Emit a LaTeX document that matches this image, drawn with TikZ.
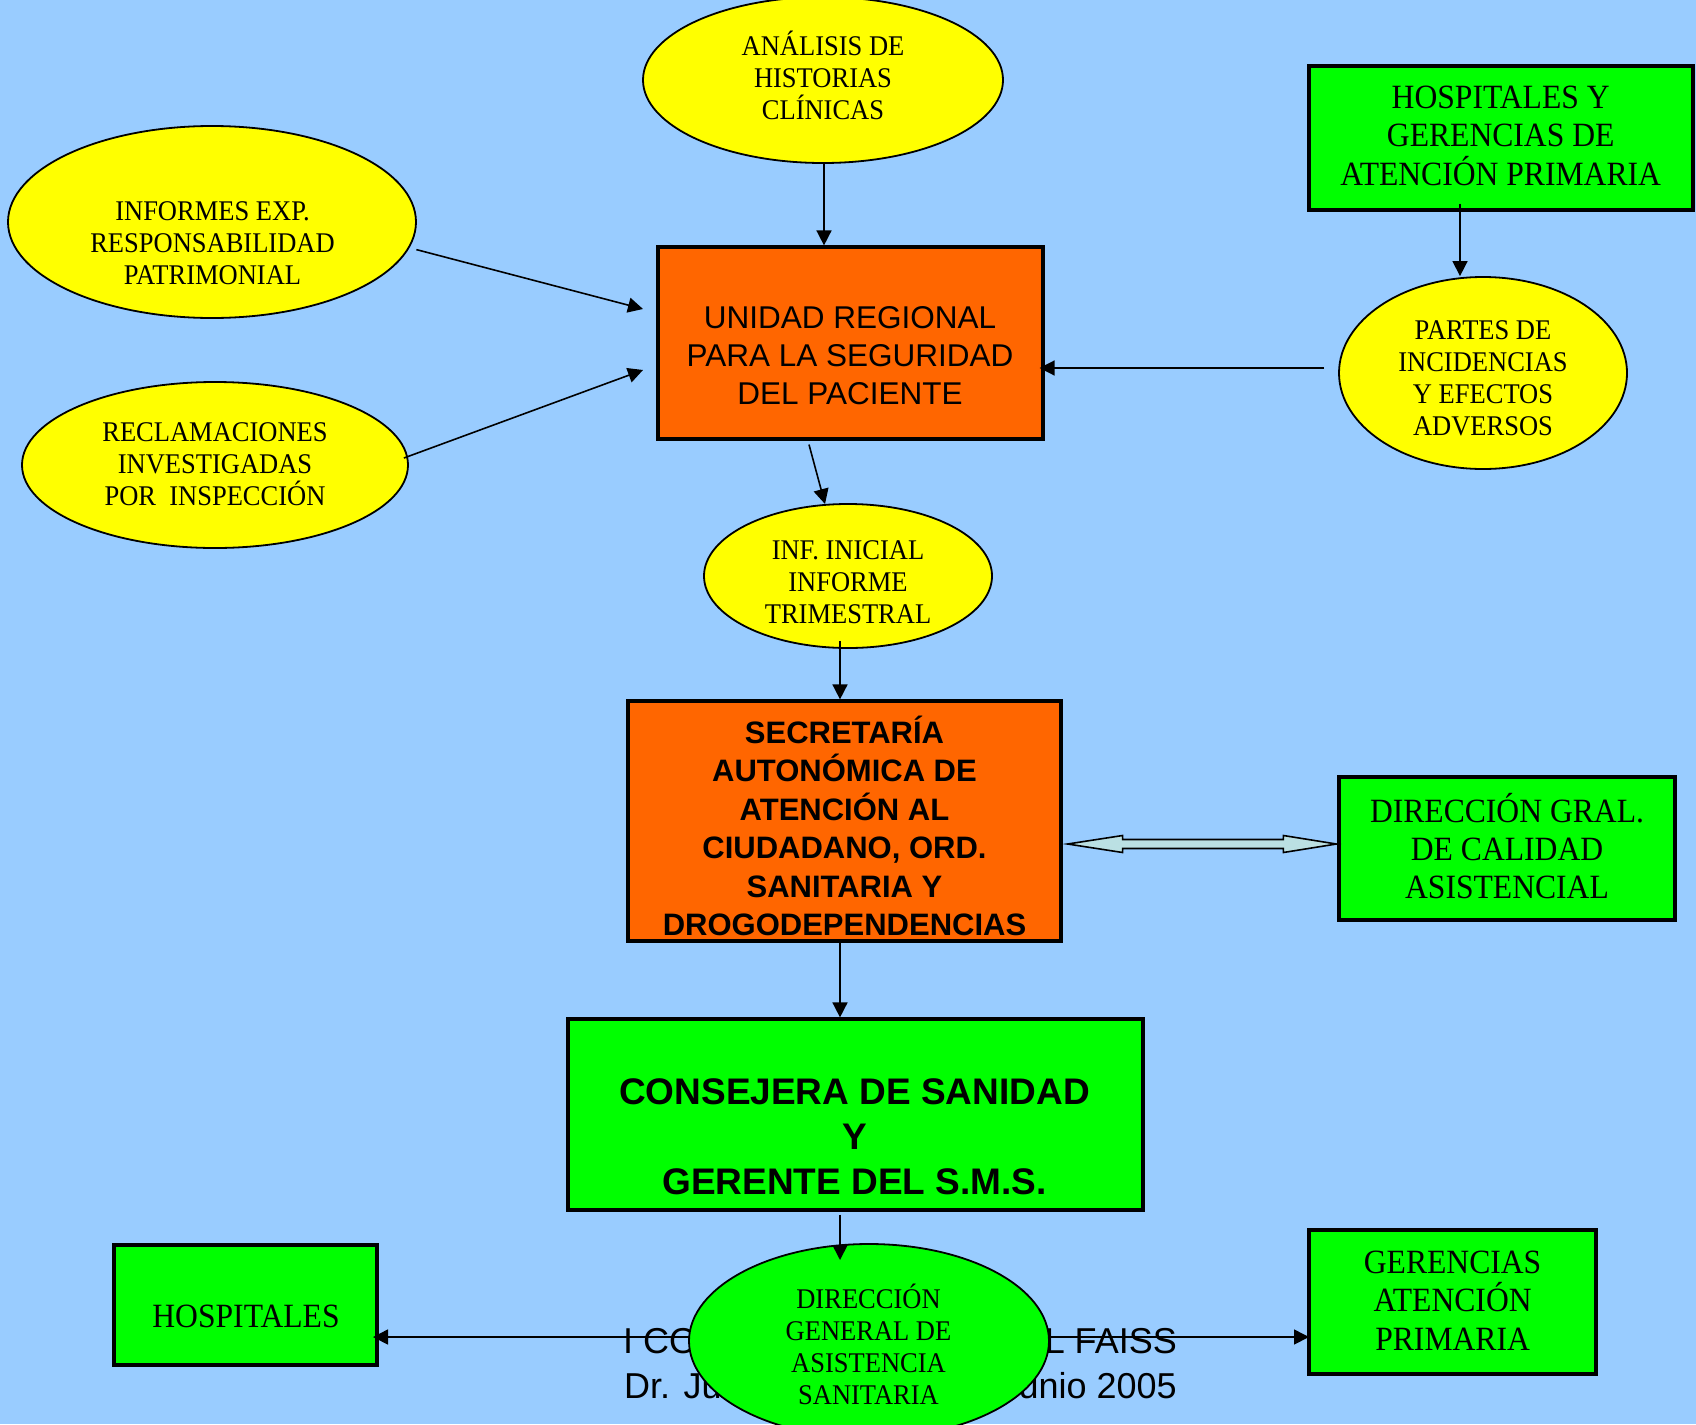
\documentclass[tikz,border=0pt]{standalone}
\usepackage{fontspec}
\setmainfont{Liberation Serif}
\newfontfamily\tms[FakeStretch=0.93]{Liberation Serif}
\newfontfamily\arl{Liberation Sans}
\usetikzlibrary{arrows.meta,calc,shapes.geometric}
\definecolor{bg}{HTML}{99CCFF}
\definecolor{yel}{HTML}{FFFF00}
\definecolor{org}{HTML}{FF6600}
\definecolor{grn}{HTML}{00FF00}
\definecolor{cyn}{HTML}{BBE0E3}
\begin{document}
\begin{tikzpicture}[x=1pt,y=-1pt,
  ell/.style={ellipse,draw=black,line width=1.8pt,fill=yel,inner sep=0pt},
  box/.style={rectangle,draw=black,line width=3.2pt,inner sep=0pt},
  tt/.style={font=\tms\fontsize{28.5}{32}\selectfont,align=center,inner sep=0pt},
  tb/.style={font=\tms\fontsize{34}{38.4}\selectfont,align=center,inner sep=0pt},
  ta/.style={font=\arl\fontsize{31.5}{38.2}\selectfont,align=center,inner sep=0pt},
  tab/.style={font=\arl\bfseries\fontsize{31}{38.4}\selectfont,align=center,inner sep=0pt},
  tcb/.style={font=\arl\bfseries\fontsize{37}{45.4}\selectfont,align=center,inner sep=0pt},
  tf/.style={font=\arl\fontsize{36}{45}\selectfont,inner sep=0pt},
  arr/.style={-{Triangle[length=15pt,width=15pt]},line width=1.6pt},
  arrb/.style={{Triangle[length=15pt,width=15pt]}-{Triangle[length=15pt,width=15pt]},line width=1.6pt},
]
\useasboundingbox (0,0) rectangle (1696,1424);
\fill[bg] (0,0) rectangle (1696,1424);

% shapes
\node[ell,minimum width=360pt,minimum height=166pt] (ana) at (823,80) {};
\node[tt] (anat) at (823,75) {ANÁLISIS DE\\HISTORIAS\\CLÍNICAS};

\node[ell,minimum width=408pt,minimum height=192pt] (infx) at (212,222) {};
\node[tt] (infxt) at (212.5,243) {INFORMES EXP.\\RESPONSABILIDAD\\PATRIMONIAL};

\node[ell,minimum width=386pt,minimum height=166pt] (recl) at (215,465) {};
\node[tt] (reclt) at (215,464.5) {RECLAMACIONES\\INVESTIGADAS\\POR\ \ INSPECCIÓN};

\node[box,fill=grn,minimum width=384pt,minimum height=144pt] (hyg) at (1501,138) {};
\node[tb] (hygt) at (1500.7,135.7) {HOSPITALES Y\\GERENCIAS DE\\ATENCIÓN PRIMARIA};

\node[box,fill=org,minimum width=385pt,minimum height=192pt] (uni) at (850.5,343) {};
\node[ta] (unit) at (850,355.8) {UNIDAD REGIONAL\\PARA LA SEGURIDAD\\DEL PACIENTE};

\node[ell,minimum width=288pt,minimum height=192pt] (partes) at (1483,373) {};
\node[tt] (partest) at (1483,378) {PARTES DE\\INCIDENCIAS\\Y EFECTOS\\ADVERSOS};

\node[ell,minimum width=288pt,minimum height=144pt] (infi) at (848,576) {};
\node[tt] (infit) at (848,582.5) {INF. INICIAL\\INFORME\\TRIMESTRAL};

\node[box,fill=org,minimum width=433pt,minimum height=240pt] (sec) at (844.5,821) {};
\node[tab] (sect) at (844.5,826) {SECRETARÍA\\AUTONÓMICA DE\\ATENCIÓN AL\\CIUDADANO, ORD.\\SANITARIA Y\\DROGODEPENDENCIAS};

\node[box,fill=grn,minimum width=336pt,minimum height=143pt] (dgral) at (1507,848.5) {};
\node[tb] (dgralt) at (1507,846) {DIRECCIÓN GRAL.\\DE CALIDAD\\ASISTENCIAL};

\node[box,fill=grn,minimum width=575pt,minimum height=191pt] (cons) at (855.5,1114.5) {};
\node[tcb] (const) at (854.5,1136.8) {CONSEJERA DE SANIDAD\\Y\\GERENTE DEL S.M.S.};

\node[box,fill=grn,minimum width=263pt,minimum height=120pt] (hosp) at (245.5,1305) {};
\node[tb] (hospt) at (246,1316) {HOSPITALES};

\node[box,fill=grn,minimum width=287pt,minimum height=144pt] (gap) at (1452.5,1302) {};
\node[tb] (gapt) at (1452.6,1300.6) {GERENCIAS\\ATENCIÓN\\PRIMARIA};

% footer text (partly hidden)
\node[tf,anchor=west] (f1) at (623,1341) {I CO};
\node[tf,anchor=east] (f2) at (1177,1341) {L FAISS};
\node[tf,anchor=west] (f3) at (624,1386) {Dr. Ju};
\node[tf,anchor=east] (f4) at (1177,1386) {unio 2005};

% horizontal connector behind the ellipse
\coordinate (hl) at (373,1337);
\coordinate (hr) at (1309,1337);
\draw[arrb] (hl) -- (hr);

\node[ell,fill=grn,minimum width=360pt,minimum height=194pt] (dgas) at (869,1341) {};
\node[tt] (dgast) at (868.5,1344) {DIRECCIÓN\\GENERAL DE\\ASISTENCIA\\SANITARIA};

% connectors
\draw[arr] ([xshift=1pt]ana.south) -- ([xshift=1pt]ana.south |- uni.north);
\coordinate (t1) at (643,309);
\draw[arr] ([xshift=8pt]infx.-8) -- (t1);
\coordinate (t2) at (643,370);
\draw[arr] ([xshift=-5pt,yshift=7pt]recl.east) -- (t2);
\draw[arr] ([xshift=-41pt,yshift=8pt]hyg.south) -- ([xshift=-41pt]hyg.south |- partes.north);
\coordinate (s5) at (1324,368);
\draw[arr] (s5) -- ([xshift=-5pt]uni.east |- s5);
\coordinate (t6) at (825,504);
\draw[arr] ([xshift=-41.5pt,yshift=-4pt]uni.south) -- (t6);
\draw[arr] ([xshift=-8pt,yshift=8pt]infi.south) -- ([xshift=-8pt]infi.south |- sec.north);
\draw[arr] ([xshift=-4.5pt]sec.south) -- ([xshift=-4.5pt]sec.south |- cons.north);
\coordinate (t10) at (840,1260);
\draw[arr] ([xshift=-15.5pt,yshift=-3pt]cons.south) -- (t10);

% double hollow arrow
\coordinate (dl) at ([xshift=5pt,yshift=-23pt]sec.east);
\coordinate (dr) at ([xshift=-1pt]dgral.west |- dl);
\draw[line width=1.6pt,fill=cyn,line join=miter]
  (dl) -- ($(dl)+(55,-8.5)$) -- ($(dl)+(55,-4.5)$) -- ($(dr)+(-53,-4.5)$)
  -- ($(dr)+(-53,-8.5)$) -- (dr) -- ($(dr)+(-53,8.5)$) -- ($(dr)+(-53,4.5)$)
  -- ($(dl)+(55,4.5)$) -- ($(dl)+(55,8.5)$) -- cycle;
\end{tikzpicture}
\end{document}
